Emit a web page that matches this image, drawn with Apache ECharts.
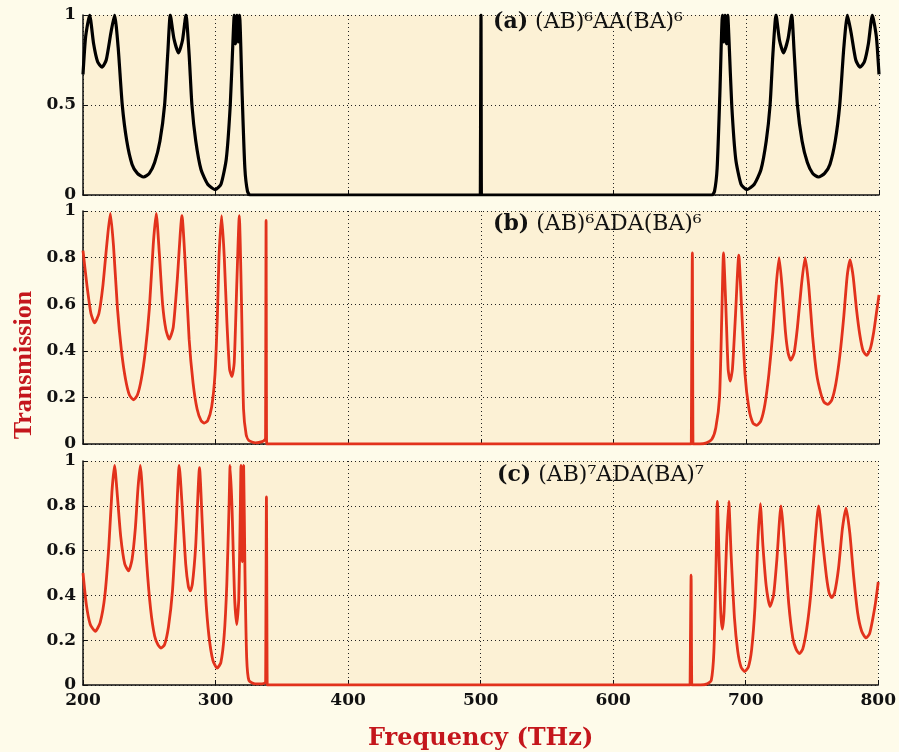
<!DOCTYPE html>
<html>
<head>
<meta charset="utf-8">
<script src="https://cdn.jsdelivr.net/npm/echarts@6/dist/echarts.min.js"></script>
<style>
html, body { margin: 0; padding: 0; background: #fefbea; }
#chart { width: 899px; height: 752px; }
</style>
</head>
<body>
<div id="chart"></div>
<script>
// transmission spectra, [frequency THz, T]
var spectrumA = [
	[200, 0.67], [202, 0.88], [205, 1.0], [208, 0.84], [211, 0.74], [214.3, 0.71], [217.5, 0.75],
	[221, 0.90], [223.8, 1.0], [226.5, 0.82], [229.6, 0.50], [233, 0.30], [237, 0.17], [241, 0.12],
	[245.7, 0.10], [250, 0.12], [254, 0.18], [258, 0.30], [261.5, 0.50], [264, 0.80], [265.8, 1.0],
	[268.5, 0.87], [272, 0.79], [275, 0.86], [277.6, 1.0], [280, 0.78], [282.1, 0.50], [285, 0.30],
	[289, 0.14], [294, 0.06], [299.7, 0.03], [304, 0.06], [308, 0.20], [311, 0.50], [313, 0.85],
	[314, 1.0], [315, 0.84], [316, 1.0], [317, 0.85], [318, 1.0], [320, 0.55], [322, 0.15],
	[324, 0.02], [326, 0], [499.5, 0], [499.7, 0], [500, 1.0], [500.3, 0], [500.5, 0], [674, 0],
	[676, 0.02], [678, 0.15],
	[680, 0.55], [682, 1.0], [683, 0.85], [684, 1.0], [685, 0.84], [686, 1.0], [687, 0.85],
	[689, 0.50], [692, 0.20], [696, 0.06], [700.3, 0.03], [706, 0.06], [711, 0.14], [715, 0.30],
	[717.9, 0.50], [720, 0.78], [722.4, 1.0], [725, 0.86], [728, 0.79], [731.5, 0.87], [734.2, 1.0],
	[736, 0.80], [738.5, 0.50], [742, 0.30], [746, 0.18], [750, 0.12], [754.3, 0.10], [759, 0.12],
	[763, 0.17], [767, 0.30], [770.4, 0.50], [773.5, 0.82], [776.2, 1.0], [779, 0.90], [782.5, 0.75],
	[785.7, 0.71], [789, 0.74], [792, 0.84], [795, 1.0], [798, 0.88], [800, 0.67]
];
var spectrumB = [
	[200, 0.83], [203, 0.68], [206, 0.56], [208.8, 0.52], [212, 0.56], [215, 0.68], [218, 0.86],
	[220.6, 0.99], [223, 0.85], [226, 0.58], [229, 0.40], [232, 0.28], [235, 0.21], [238.1, 0.19],
	[241, 0.21], [244, 0.28], [247, 0.40], [250, 0.58], [253, 0.86], [255.2, 0.99], [257.5, 0.82],
	[260, 0.60], [262.5, 0.49], [265, 0.45], [268, 0.50], [271, 0.70], [274.6, 0.98], [277, 0.78],
	[280, 0.45], [283, 0.26], [286, 0.15], [289, 0.10], [291.4, 0.09], [294, 0.10], [297, 0.16],
	[299.5, 0.30], [301.3, 0.55], [302.5, 0.80], [304.5, 0.98], [306.5, 0.80], [308.5, 0.52],
	[310.5, 0.32], [312.3, 0.29], [314, 0.35], [316, 0.70], [317.8, 0.98], [319.5, 0.60],
	[321, 0.15], [323, 0.04], [325, 0.015], [330, 0.005], [335, 0.01], [337.3, 0.02], [337.6, 0.03],
	[338, 0.96], [338.4, 0], [338.7, 0], [340, 0], [658.5, 0], [658.8, 0], [659.3, 0.82], [659.8, 0],
	[660.1, 0], [665, 0], [670, 0.005], [674, 0.02],
	[677, 0.07], [679.8, 0.20], [681.5, 0.55], [682.8, 0.82], [684.5, 0.60], [686.3, 0.32],
	[687.8, 0.27], [689.5, 0.32], [691.8, 0.55], [694.3, 0.81], [696.3, 0.60], [699, 0.30],
	[702, 0.15], [705, 0.09], [707.9, 0.08], [711, 0.10], [714, 0.17], [717, 0.30], [720, 0.48],
	[722.5, 0.68], [724.7, 0.80], [727, 0.67], [729.5, 0.48], [731.5, 0.39], [733.5, 0.36],
	[736, 0.39], [738.5, 0.50], [741.5, 0.68], [744.3, 0.80], [747, 0.68], [750, 0.46], [753, 0.30],
	[756, 0.22], [758.5, 0.18], [761.4, 0.17], [764.5, 0.19], [767.5, 0.26], [770.5, 0.38],
	[773.5, 0.55], [776, 0.72], [778.2, 0.79], [780.5, 0.72], [783, 0.58], [785.5, 0.47],
	[788, 0.40], [790.8, 0.38], [793.5, 0.41], [796, 0.48], [798, 0.56], [800, 0.64]
];
var spectrumC = [
	[200, 0.50], [202.5, 0.36], [205.5, 0.27], [209.3, 0.24], [213, 0.28], [216.5, 0.40],
	[219.5, 0.62], [221.8, 0.86], [223.8, 0.98], [226, 0.84], [228.5, 0.66], [231.5, 0.54],
	[234.4, 0.51], [237, 0.56], [239.5, 0.70], [241.5, 0.88], [243.2, 0.98], [245.5, 0.80],
	[248, 0.55], [251, 0.34], [254, 0.22], [256.5, 0.18], [258.8, 0.165], [261.5, 0.18],
	[264.5, 0.26], [267.5, 0.42], [270, 0.68], [272.6, 0.98], [275, 0.78], [277.5, 0.54],
	[279.5, 0.44], [280.9, 0.42], [282.5, 0.45], [285, 0.62], [287.9, 0.97], [290, 0.72],
	[292.5, 0.40], [295, 0.22], [298, 0.11], [301.2, 0.075], [304, 0.10], [306.5, 0.22],
	[308.5, 0.45], [310.2, 0.80], [311, 0.98], [312.5, 0.78], [314.3, 0.40], [316, 0.27],
	[317.5, 0.38], [318.6, 0.75], [319.2, 0.98], [320.2, 0.55], [321.2, 0.98], [322.2, 0.50],
	[323.5, 0.12], [325.2, 0.02], [330, 0.005], [335, 0.005], [337.5, 0.01], [337.8, 0.02],
	[338.4, 0.84], [339, 0], [339.3, 0], [340, 0], [658, 0], [658.3, 0], [658.8, 0.49], [659.3, 0],
	[659.6, 0], [666, 0], [671, 0.005], [674, 0.02],
	[676, 0.15], [677.5, 0.50], [678.6, 0.82], [680, 0.55], [681.2, 0.32], [682.4, 0.25],
	[683.7, 0.33], [685.5, 0.62], [687.2, 0.82], [689, 0.58], [691.5, 0.30], [694, 0.15],
	[696.5, 0.08], [699.2, 0.06], [702, 0.08], [704.5, 0.16], [707, 0.35], [709, 0.62], [711, 0.81],
	[713, 0.62], [715.5, 0.44], [718.3, 0.35], [721, 0.40], [723.5, 0.56], [726.6, 0.80],
	[729.5, 0.60], [732.5, 0.36], [735.5, 0.21], [738, 0.16], [740.4, 0.14], [743, 0.16],
	[746, 0.25], [749, 0.40], [752, 0.62], [755, 0.80], [758, 0.64], [761, 0.48], [763, 0.41],
	[764.9, 0.39], [767, 0.41], [770, 0.52], [773, 0.70], [775.7, 0.79], [778.5, 0.68],
	[781.5, 0.48], [784.5, 0.32], [787.5, 0.24], [790.8, 0.21], [793.5, 0.23], [796, 0.30],
	[798, 0.37], [800, 0.46]
];
var panelTags = ['(a)', '(b)', '(c)'];
var panelStacks = [' (AB)\u2076AA(BA)\u2076', ' (AB)\u2076ADA(BA)\u2076', ' (AB)\u2077ADA(BA)\u2077'];
var yStep = [0.5, 0.2, 0.2];

var spectra = [spectrumA, spectrumB, spectrumC];
var lineColors = ['#000000', '#e2321c', '#e2321c'];
var lineWidths = [3.2, 2.8, 2.8];
var panelBoxes = [
	{ top: 15, height: 180 },
	{ top: 211, height: 233 },
	{ top: 461, height: 235 }
];
var tagPos = [[493, 22], [493, 224], [497, 475]];

var chart = echarts.init(document.getElementById('chart'));

var grids = [], xAxes = [], yAxes = [], series = [], graphics = [];
var dotted = { show: true, lineStyle: { color: '#222', width: 1, type: [1, 3] } };
var tickFont = { fontFamily: 'DejaVu Serif', fontWeight: 'bold', fontSize: 17, color: '#111' };

for (var i = 0; i < 3; i++) {
	grids.push({
		left: 83, right: 20, top: panelBoxes[i].top, height: panelBoxes[i].height,
		show: true, backgroundColor: '#fcf1d5', borderWidth: 0
	});
	xAxes.push({
		type: 'value', gridIndex: i, min: 200, max: 800, interval: 100,
		axisLine: { lineStyle: { color: '#111', width: 1.5 } },
		axisTick: { inside: true, length: 5, lineStyle: { color: '#111' } },
		axisLabel: Object.assign({ show: i == 2, margin: 7 }, tickFont),
		splitLine: dotted,
		name: i == 2 ? 'Frequency (THz)' : '',
		nameLocation: 'middle', nameGap: 42,
		nameTextStyle: { fontFamily: 'DejaVu Serif', fontWeight: 'bold', fontSize: 24, color: '#c4161c' }
	});
	yAxes.push({
		type: 'value', gridIndex: i, min: 0, max: 1, interval: yStep[i],
		axisLine: { show: true, lineStyle: { color: '#111', width: 1.5 } },
		axisTick: { show: true, inside: true, length: 5, lineStyle: { color: '#111' } },
		axisLabel: Object.assign({ margin: 7 }, tickFont),
		splitLine: dotted
	});
	series.push({
		type: 'line', xAxisIndex: i, yAxisIndex: i, data: spectra[i],
		showSymbol: false, animation: false, smooth: 0.2,
		lineStyle: { color: lineColors[i], width: lineWidths[i] }
	});
	graphics.push({
		type: 'text', x: tagPos[i][0], y: tagPos[i][1], z: 10,
		style: {
			text: '{t|' + panelTags[i] + '}{f|' + panelStacks[i] + '}',
			verticalAlign: 'middle',
			rich: {
				t: { fontFamily: 'DejaVu Serif', fontWeight: 'bold', fontSize: 22, fill: '#111' },
				f: { fontFamily: 'DejaVu Serif', fontSize: 22, fill: '#111' }
			}
		}
	});
}

graphics.push({
	type: 'text', x: 24, y: 365, rotation: Math.PI / 2,
	style: {
		text: 'Transmission', fill: '#c4161c', align: 'center', verticalAlign: 'middle',
		font: 'bold 26px "Liberation Serif"'
	}
});

chart.setOption({
	backgroundColor: '#fefbea',
	animation: false,
	grid: grids,
	xAxis: xAxes,
	yAxis: yAxes,
	series: series,
	graphic: graphics
});
</script>
</body>
</html>
